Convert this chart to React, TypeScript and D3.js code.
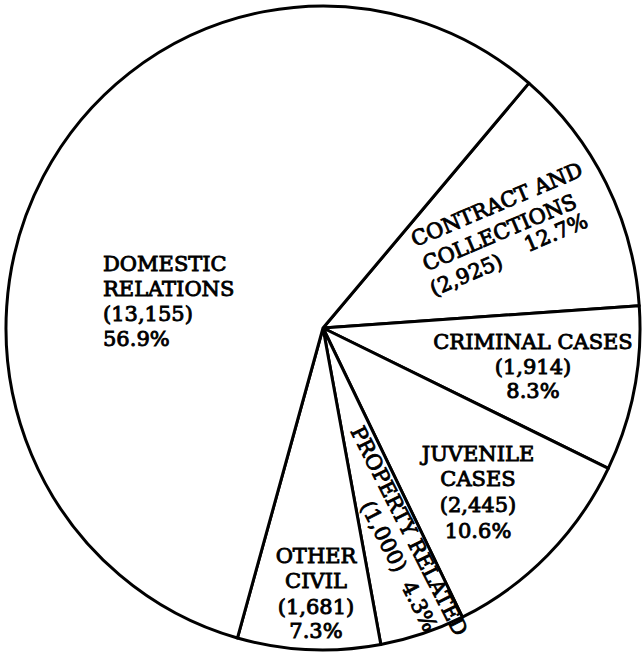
import { arc, pie, sum, format } from 'd3'

// caseload by category, clockwise from the upper right
const categories = [
  'CONTRACT AND COLLECTIONS',
  'CRIMINAL CASES',
  'JUVENILE CASES',
  'PROPERTY RELATED',
  'OTHER CIVIL',
  'DOMESTIC RELATIONS',
]
const caseCounts = [2925, 1914, 2445, 1000, 1681, 13155]

const width = 643
const height = 653
const centerX = 323
const centerY = 328
const radiusX = 317
const radiusY = 322
const startAngle = (40.5 * Math.PI) / 180

const total = sum(caseCounts)
const fmtCount = (v: number) => `(${format(',')(v)})`
const fmtPct = (v: number) => format('.1%')(v / total)

const slicePie = pie<number>()
  .sort(null)
  .value((d) => d)
  .startAngle(startAngle)
  .endAngle(startAngle + 2 * Math.PI)

const sliceArc = arc<any>().innerRadius(0).outerRadius(radiusX)

// where each label sits; lines are [text, dx, dy] inside the label frame
const labelLayout = [
  { x: 415, y: 247, rotate: -23, anchor: 'start',
    lines: (i: number) => [['CONTRACT AND', 0, 0], ['COLLECTIONS', 1, 27], [fmtCount(caseCounts[i]), -2, 53], [fmtPct(caseCounts[i]), 102, 49]] },
  { x: 533, y: 349, rotate: 0, anchor: 'middle',
    lines: (i: number) => [['CRIMINAL CASES', 0, 0], [fmtCount(caseCounts[i]), 0, 25], [fmtPct(caseCounts[i]), 0, 49]] },
  { x: 478, y: 461, rotate: 0, anchor: 'middle',
    lines: (i: number) => [['JUVENILE', 0, 0], ['CASES', 0, 25], [fmtCount(caseCounts[i]), 0, 51], [fmtPct(caseCounts[i]), 0, 77]] },
  { x: 350, y: 431, rotate: 63, anchor: 'start',
    lines: (i: number) => [['PROPERTY RELATED', 0, 0], [fmtCount(caseCounts[i]), 71, 25], [fmtPct(caseCounts[i]), 161, 25]] },
  { x: 316, y: 563, rotate: 0, anchor: 'middle',
    lines: (i: number) => [['OTHER', 0, 0], ['CIVIL', 0, 25], [fmtCount(caseCounts[i]), 0, 51], [fmtPct(caseCounts[i]), 0, 75]] },
  { x: 103, y: 271, rotate: 0, anchor: 'start',
    lines: (i: number) => [['DOMESTIC', 0, 0], ['RELATIONS', 0, 25], [fmtCount(caseCounts[i]), 0, 50], [fmtPct(caseCounts[i]), 0, 75]] },
]

function App() {
  const slices = slicePie(caseCounts)
  return (
    <svg
      width={width}
      height={height}
      style={{ position: 'absolute', left: 0, top: 0, background: '#fff' }}
    >
      <g transform={`translate(${centerX},${centerY}) scale(1,${radiusY / radiusX})`}>
        {slices.map((d, i) => (
          <path
            key={categories[i]}
            d={sliceArc(d) as string}
            fill="#fff"
            stroke="#000"
            strokeWidth={3}
            strokeLinejoin="round"
            vectorEffect="non-scaling-stroke"
          />
        ))}
      </g>
      <g fontFamily="'DejaVu Serif', serif" fontSize={21} fill="#000" stroke="#000" strokeWidth={0.9}>
        {labelLayout.map((l, i) => (
          <g key={categories[i]} transform={`translate(${l.x},${l.y}) rotate(${l.rotate})`}>
            {l.lines(i).map(([t, dx, dy]) => (
              <text key={t as string} x={dx as number} y={dy as number} textAnchor={l.anchor as any}>
                {t}
              </text>
            ))}
          </g>
        ))}
      </g>
    </svg>
  )
}

export default App
